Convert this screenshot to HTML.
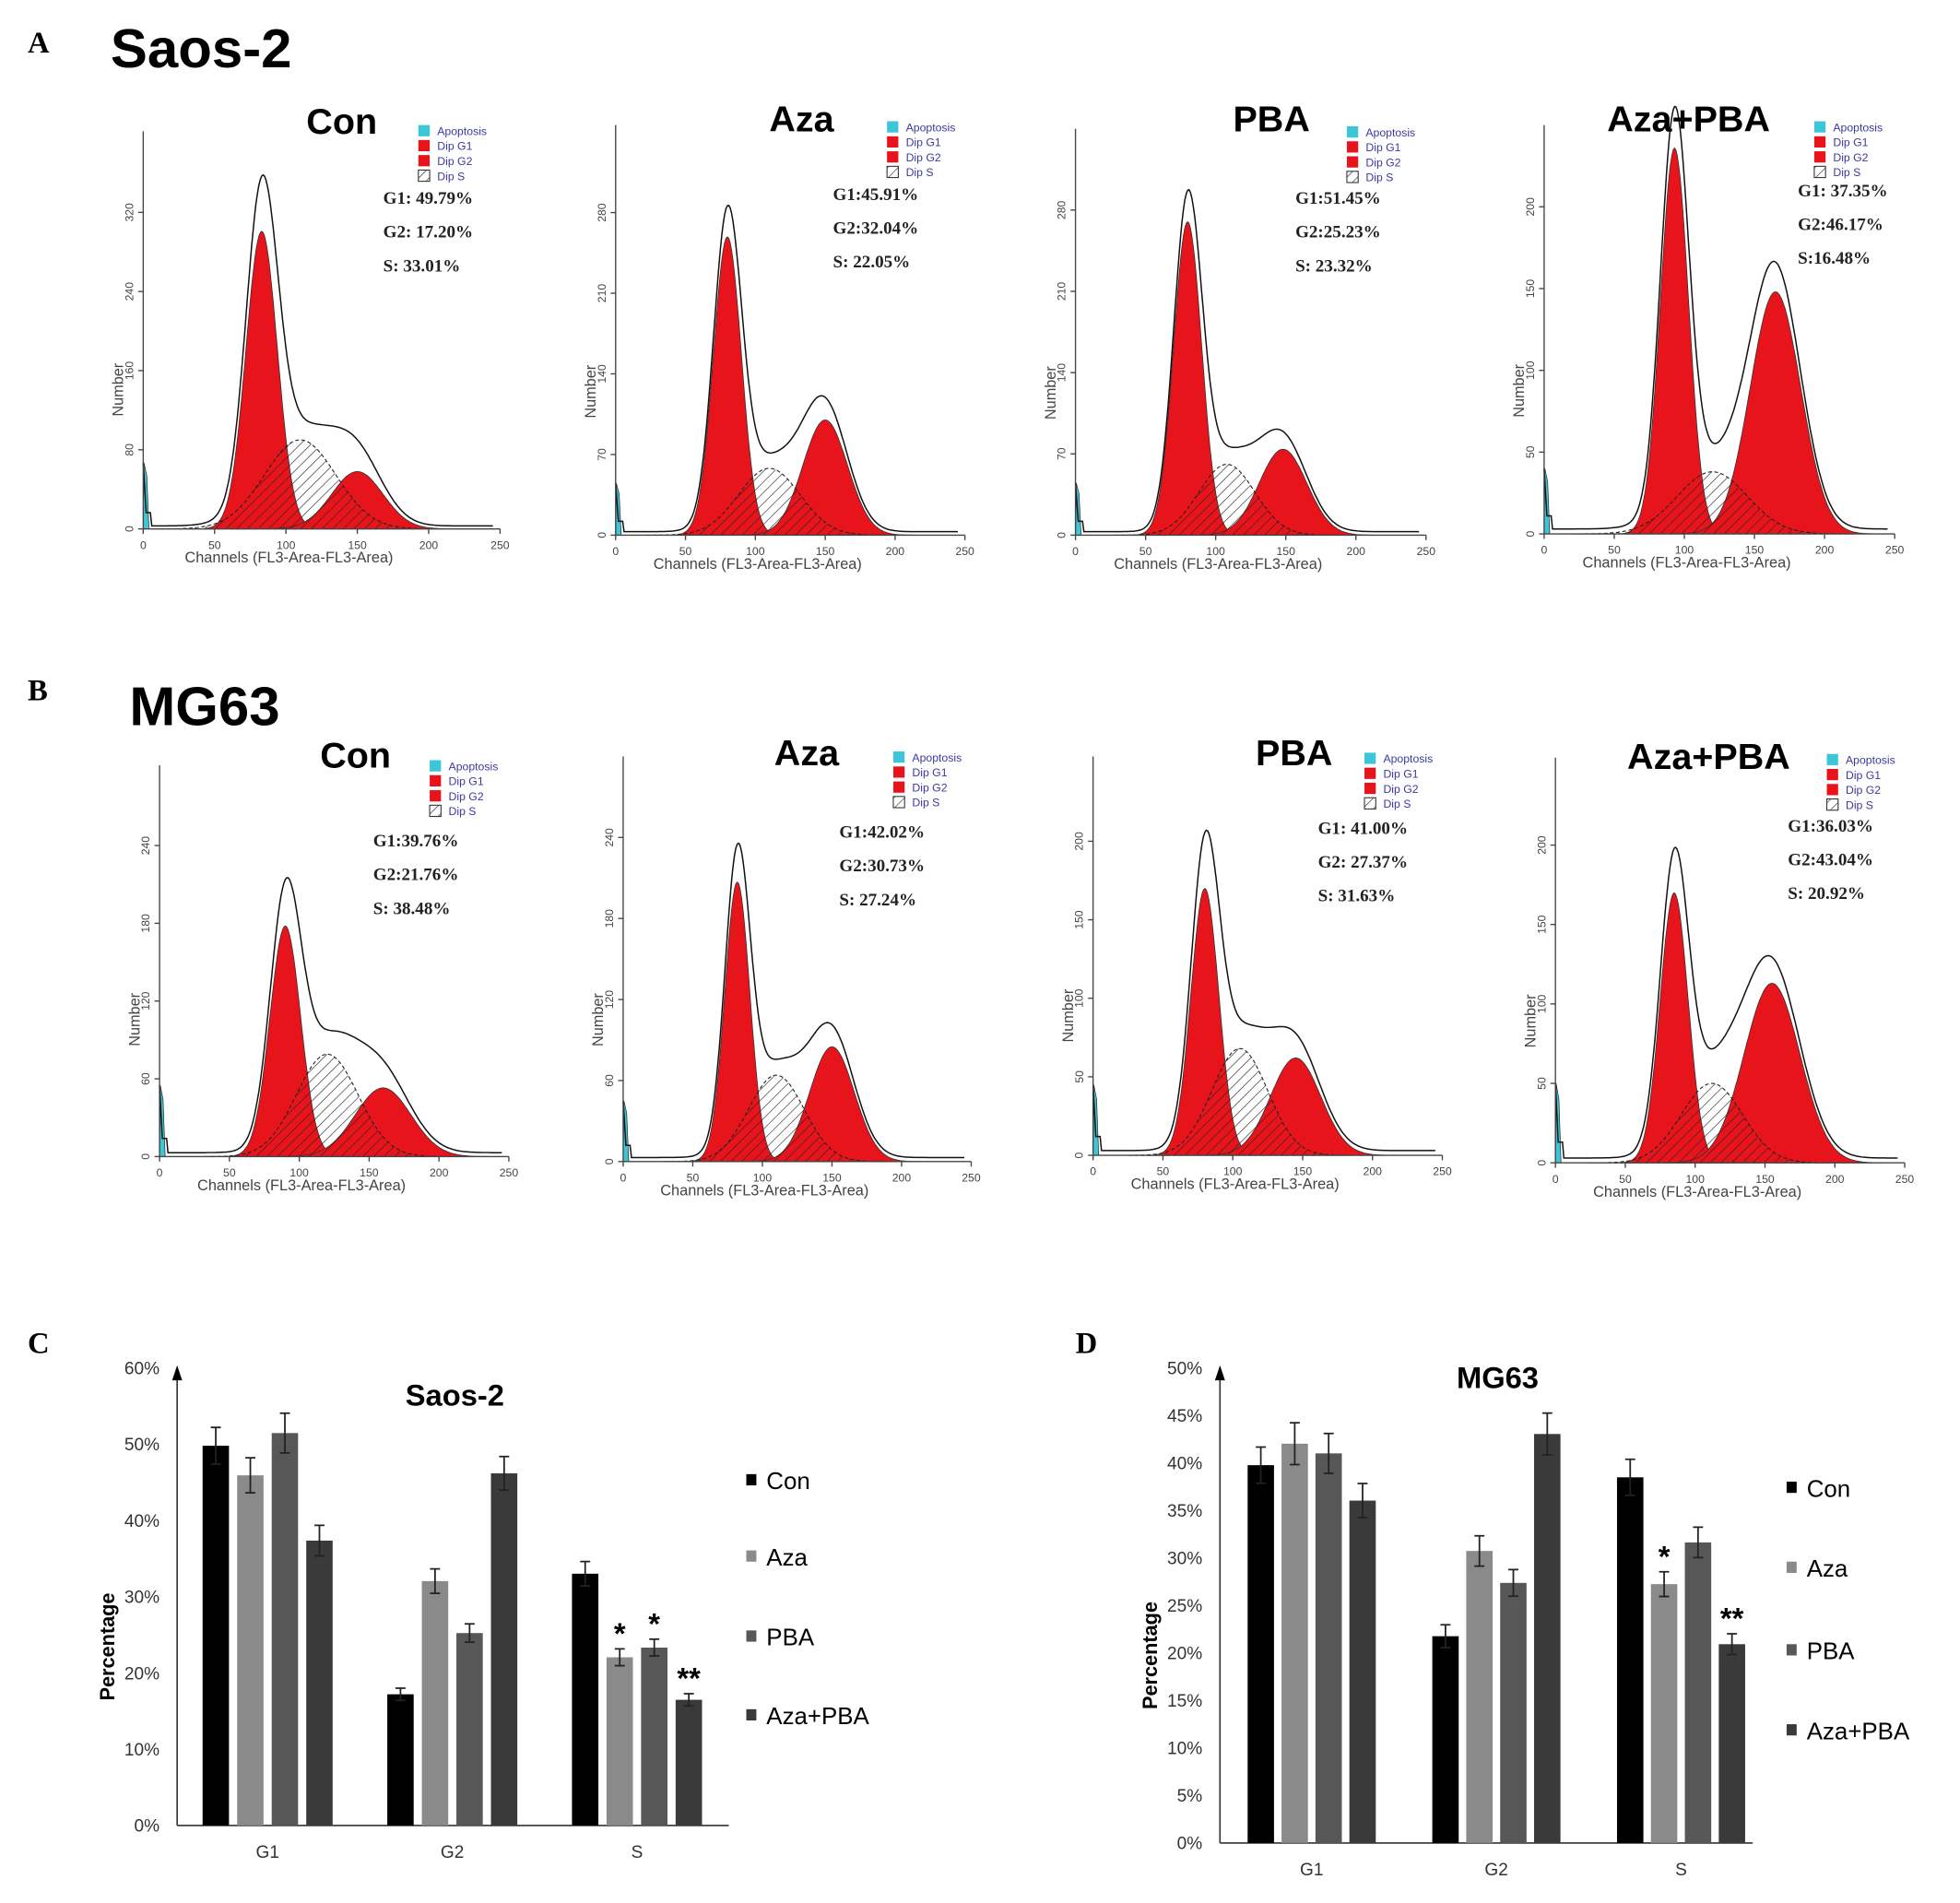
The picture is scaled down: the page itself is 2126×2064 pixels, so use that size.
<!DOCTYPE html>
<html><head><meta charset="utf-8">
<style>
html,body{margin:0;padding:0;background:#fff;}
svg{display:block;}
text{font-family:"Liberation Sans",sans-serif;}
</style></head>
<body>
<svg id="fig" width="2126" height="2064" viewBox="0 0 1560 1522" preserveAspectRatio="none" xmlns="http://www.w3.org/2000/svg">
<defs>
<pattern id="hatch" patternUnits="userSpaceOnUse" width="6" height="6" patternTransform="rotate(45)">
<line x1="0" y1="0" x2="0" y2="6" stroke="#222" stroke-width="0.9"/>
</pattern>
</defs>
<rect width="1560" height="1522" fill="#fff"/>
<text x="22" y="42" font-weight="bold" font-size="24" style="font-family:'Liberation Serif',serif">A</text>
<text x="88" y="54" font-size="44" font-weight="bold">Saos-2</text>
<text x="22" y="560" font-weight="bold" font-size="24" style="font-family:'Liberation Serif',serif">B</text>
<text x="103" y="580" font-size="44" font-weight="bold">MG63</text>
<text x="22" y="1082" font-weight="bold" font-size="24" style="font-family:'Liberation Serif',serif">C</text>
<text x="856" y="1082" font-weight="bold" font-size="24" style="font-family:'Liberation Serif',serif">D</text>
<g id="hists"></g>
<g id="bars"></g>
</svg>
<script>
// ---------- Histogram data ----------
const histTitles = ["Con","Aza","PBA","Aza+PBA","Con","Aza","PBA","Aza+PBA"];
const histG1Text = ["G1:  49.79%","G1:45.91%","G1:51.45%","G1: 37.35%","G1:39.76%","G1:42.02%","G1:  41.00%","G1:36.03%"];
const histG2Text = ["G2:  17.20%","G2:32.04%","G2:25.23%","G2:46.17%","G2:21.76%","G2:30.73%","G2:  27.37%","G2:43.04%"];
const histSText  = ["S:  33.01%","S:  22.05%","S:  23.32%","S:16.48%","S:  38.48%","S:  27.24%","S:  31.63%","S:  20.92%"];
const histYTicks = [[0,80,160,240,320],[0,70,140,210,280],[0,70,140,210,280],[0,50,100,150,200],
                    [0,60,120,180,240],[0,60,120,180,240],[0,50,100,150,200],[0,50,100,150,200]];
const histYMax = [402,356,350,250,302,300,254,255];
// [mean channel, sigma, peak count]
const histG1 = [[83,11,301],[80,10,259],[80,10,270],[93,10,236],[90,11,178],[82,9,207],[80,10,170],[85,10,170]];
const histG2 = [[150,18,58],[150,16,100],[148,17,74],[165,18,148],[160,20,53],[150,16,85],[145,18,62],[155,20,113]];
const histS  = [[110,25,90],[110,22,58],[108,20,61],[120,25,38],[120,22,79],[110,20,64],[105,20,68],[112,22,50]];
const histApop = [67,45,45,40,55,45,45,50];
const channelTicks = [0,50,100,150,200,250];
const histFrames = [
 [114,398,423,105,272,97,333,104,305,163],
 [490,768,428,100,638,95,706,101,663,160],
 [856,1135,428,103,1012,95,1072,105,1031,163],
 [1229,1508,427,100,1344,95,1444,101,1431,157],
 [127,405,925,612,283,604,342,612,297,677],
 [496,773,929,605,642,602,711,605,668,670],
 [870,1148,924,605,1030,602,1086,606,1049,667],
 [1238,1516,930,606,1360,605,1454,607,1423,665]
];
const NS="http://www.w3.org/2000/svg";
function mk(tag,attrs,parent){const e=document.createElementNS(NS,tag);for(const k in attrs)e.setAttribute(k,attrs[k]);parent.appendChild(e);return e;}
function gauss(c,p){return p[2]*Math.exp(-0.5*Math.pow((c-p[0])/p[1],2));}
const hg=document.getElementById('hists');
histTitles.forEach((t,i)=>{
  const f=histFrames[i];
  const g=mk('g',{},hg);
  
  
  const xs=c=>f[0]+(f[1]-f[0])*c/250;
  const ys=v=>f[2]-(f[2]-f[3])*v/histYMax[i];
  function curvePath(p){let d='M'+xs(Math.max(0,p[0]-4*p[1]))+','+ys(0);
    for(let c=Math.max(0,p[0]-4*p[1]);c<=Math.min(250,p[0]+4*p[1]);c+=1)d+=' L'+xs(c).toFixed(1)+','+ys(gauss(c,p)).toFixed(1);
    d+=' L'+xs(Math.min(250,p[0]+4*p[1]))+','+ys(0)+' Z';return d;}
  const g1=mk('path',{d:curvePath(histG1[i]),fill:'#e8141c',stroke:'#333','stroke-width':0.6},g);
  
  
  const g2=mk('path',{d:curvePath(histG2[i]),fill:'#e8141c',stroke:'#333','stroke-width':0.6},g);
  
  
  const s=mk('path',{d:curvePath(histS[i]),fill:'url(#hatch)',stroke:'#222','stroke-width':0.8,'stroke-dasharray':'3,2'},g);
  
  
  const a=mk('path',{d:`M${xs(0)},${ys(0)} L${xs(0.5)},${ys(histApop[i])} L${xs(2.5)},${ys(histApop[i]*0.8)} L${xs(4)},${ys(0)} Z`,fill:'#3cc6d8',stroke:'#222','stroke-width':0.5},g);
  
  
  let d='M'+xs(0)+','+ys(histApop[i]);
  for(let c=2;c<=245;c+=1){
    const v=gauss(c,histG1[i])+gauss(c,histG2[i])*1.05+gauss(c,histS[i])*1.05+3+(c<6?histApop[i]*0.2:0);
    d+=' L'+xs(c).toFixed(1)+','+ys(v).toFixed(1);
  }
  const env=mk('path',{d:d,fill:'none',stroke:'#111','stroke-width':1.1},g);
  
  
  mk('line',{x1:f[0],y1:f[3],x2:f[0],y2:f[2],stroke:'#444','stroke-width':1},g);
  mk('line',{x1:f[0],y1:f[2],x2:f[1],y2:f[2],stroke:'#444','stroke-width':1},g);
  channelTicks.forEach(c=>{
    mk('line',{x1:xs(c),y1:f[2],x2:xs(c),y2:f[2]+4,stroke:'#444'},g);
    const tx=mk('text',{x:xs(c),y:f[2]+16,'font-size':9,'text-anchor':'middle',fill:'#444'},g);tx.textContent=c;
    
    
  });
  histYTicks[i].forEach(v=>{
    mk('line',{x1:f[0]-4,y1:ys(v),x2:f[0],y2:ys(v),stroke:'#444'},g);
    const tx=mk('text',{x:f[0]-8,y:ys(v),'font-size':9,'text-anchor':'middle',fill:'#444',transform:`rotate(-90 ${f[0]-8} ${ys(v)})`},g);tx.textContent=v;
    
    
  });
  const xl=mk('text',{x:(f[0]+f[1])/2-26,y:f[2]+27,'font-size':12,'text-anchor':'middle',fill:'#444'},g);xl.textContent='Channels (FL3-Area-FL3-Area)';
  
  
  const ymid=(f[2]+f[3])/2+((f[2]-f[3])*0.15);
  const yl=mk('text',{x:f[0]-16,y:ymid,'font-size':12,'text-anchor':'middle',fill:'#444',transform:`rotate(-90 ${f[0]-16} ${ymid})`},g);yl.textContent='Number';
  
  
  const tt=mk('text',{x:f[4],y:f[5]+10,'font-size':29,'font-weight':'bold','text-anchor':'middle'},g);tt.textContent=t;
  
  
  const lg=mk('g',{},g);
  
  
  const items=[['Apoptosis','#3cc6d8'],['Dip G1','#e8141c'],['Dip G2','#e8141c'],['Dip S','url(#hatch)']];
  items.forEach((it,k)=>{
    mk('rect',{x:f[6],y:f[7]-4+k*12,width:9,height:9,fill:it[1],stroke:k==3?'#333':'none','stroke-width':0.8},lg);
    const lt=mk('text',{x:f[6]+15,y:f[7]+4+k*12,'font-size':9,fill:'#3a3aa0'},lg);lt.textContent=it[0];
  });
  [histG1Text[i],histG2Text[i],histSText[i]].forEach((s2,k)=>{
    const st=mk('text',{x:f[8],y:f[9]+k*27,'font-size':14,'font-weight':'bold',fill:'#222',style:"font-family:'Liberation Serif',serif"},g);st.textContent=s2;
    
    
  });
});

// ---------- Bar chart data ----------
const barCategories = ["G1","G2","S"];
const barSeries = ["Con","Aza","PBA","Aza+PBA"];
const saosCon = [49.79,17.20,33.01];
const saosAza = [45.91,32.04,22.05];
const saosPBA = [51.45,25.23,23.32];
const saosAP  = [37.35,46.17,16.48];
const saosErr = [[2.4,0.8,1.6],[2.3,1.6,1.1],[2.6,1.2,1.1],[2.0,2.2,0.8]];
const saosStars = [["","",""],["","","*"],["","","*"],["","","**"]];
const mgCon = [39.76,21.76,38.48];
const mgAza = [42.02,30.73,27.24];
const mgPBA = [41.00,27.37,31.63];
const mgAP  = [36.03,43.04,20.92];
const mgErr = [[1.9,1.2,1.9],[2.2,1.6,1.3],[2.1,1.4,1.6],[1.8,2.2,1.1]];
const mgStars = [["","",""],["","","*"],["","",""],["","","**"]];
const saosTicks = [0,10,20,30,40,50,60];
const mgTicks = [0,5,10,15,20,25,30,35,40,45,50];
const barColors = ["#000000","#8a8a8a","#575757","#3a3a3a"];

const bg=document.getElementById('bars');
function barChart(name,cfg,series,errs,stars,ticks,title){
  const g=mk('g',{},bg);
  
  
  const ys=v=>cfg.y0-(cfg.y0-cfg.yTop)*v/ticks[ticks.length-1];
  const xg=i=>cfg.x0+cfg.groupStart+i*cfg.groupGap;
  mk('line',{x1:cfg.x0,y1:cfg.y0,x2:cfg.x0,y2:cfg.yTop,stroke:'#333','stroke-width':1.2},g);
  mk('path',{d:`M${cfg.x0-4},${cfg.yTop+10} L${cfg.x0},${cfg.yTop-2} L${cfg.x0+4},${cfg.yTop+10} Z`,fill:'#000'},g);
  mk('line',{x1:cfg.x0,y1:cfg.y0,x2:cfg.xEnd,y2:cfg.y0,stroke:'#333','stroke-width':1.2},g);
  ticks.forEach(t=>{
    const tx=mk('text',{x:cfg.x0-14,y:ys(t)+5,'font-size':14,'text-anchor':'end',fill:'#333'},g);tx.textContent=t+'%';
    
    
  });
  barCategories.forEach((c,i)=>{
    const tx=mk('text',{x:xg(i),y:cfg.y0+26,'font-size':14,'text-anchor':'middle',fill:'#333'},g);tx.textContent=c;
    
    
    series.forEach((s,k)=>{
      const cx=xg(i)+(k-1.5)*cfg.barStep;
      const r=mk('rect',{x:cx-cfg.barW/2,y:ys(s[i]),width:cfg.barW,height:cfg.y0-ys(s[i]),fill:barColors[k]},g);
      
      
      const e=errs[k][i];
      mk('path',{d:`M${cx},${ys(s[i]+e)} L${cx},${ys(s[i]-e)} M${cx-4},${ys(s[i]+e)} L${cx+4},${ys(s[i]+e)} M${cx-4},${ys(s[i]-e)} L${cx+4},${ys(s[i]-e)}`,stroke:'#222','stroke-width':1.3,fill:'none'},g);
      if(stars[k][i]){
        const st=mk('text',{x:cx,y:ys(s[i]+e)-4,'font-size':24,'font-weight':'bold','text-anchor':'middle'},g);st.textContent=stars[k][i];
        
        
      }
    });
  });
  const tt=mk('text',{x:cfg.titleX,y:cfg.titleY,'font-size':24,'font-weight':'bold','text-anchor':'middle'},g);tt.textContent=title;
  
  
  const yl=mk('text',{x:cfg.x0-50,y:(cfg.y0+cfg.yTop)/2+40,'font-size':16,'font-weight':'bold','text-anchor':'middle',transform:`rotate(-90 ${cfg.x0-50} ${(cfg.y0+cfg.yTop)/2+40})`},g);yl.textContent='Percentage';
  
  
  barSeries.forEach((s,k)=>{
    const ly=cfg.legendY[k];
    const le=mk('g',{},g);
    
    
    mk('rect',{x:cfg.legendX,y:ly-6,width:8,height:9,fill:barColors[k]},le);
    const lt=mk('text',{x:cfg.legendX+16,y:ly+6,'font-size':19},le);lt.textContent=s;
  });
}
barChart('bar-chart-saos2',{x0:141,y0:1460,yTop:1094,xEnd:580,groupStart:72,groupGap:147,barStep:27.5,barW:21,titleX:362,titleY:1124,legendX:594,legendY:[1185,1246,1310,1373]},
  [saosCon,saosAza,saosPBA,saosAP],saosErr,saosStars,saosTicks,'Saos-2');
barChart('bar-chart-mg63',{x0:971,y0:1474,yTop:1094,xEnd:1395,groupStart:73,groupGap:147,barStep:27,barW:21,titleX:1192,titleY:1110,legendX:1422,legendY:[1191,1255,1321,1385]},
  [mgCon,mgAza,mgPBA,mgAP],mgErr,mgStars,mgTicks,'MG63');
</script>
</body></html>
